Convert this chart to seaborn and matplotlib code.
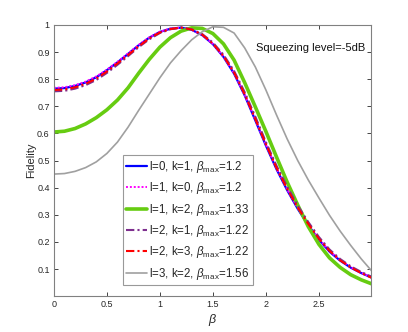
# Fidelity vs beta, squeezing level -5dB
import pandas as pd
import seaborn as sns
import matplotlib
matplotlib.use('Agg')
import matplotlib.pyplot as plt

beta = [0.0, 0.1, 0.2, 0.3, 0.4, 0.5, 0.6, 0.7, 0.8, 0.9, 1.0,
        1.1, 1.2, 1.3, 1.4, 1.5, 1.6, 1.7, 1.8, 1.9, 2.0,
        2.1, 2.2, 2.3, 2.4, 2.5, 2.6, 2.7, 2.8, 2.9, 3.0]

f_l0k1 = [0.765, 0.767, 0.775, 0.788, 0.807, 0.833, 0.862, 0.893, 0.925, 0.953, 0.974,
          0.986, 0.990, 0.982, 0.962, 0.929, 0.882, 0.820, 0.740, 0.648, 0.555,
          0.468, 0.391, 0.322, 0.261, 0.208, 0.164, 0.131, 0.105, 0.085, 0.068]
f_l1k0 = [0.768, 0.770, 0.778, 0.791, 0.810, 0.835, 0.864, 0.895, 0.926, 0.954, 0.975,
          0.987, 0.990, 0.982, 0.962, 0.930, 0.883, 0.822, 0.742, 0.651, 0.558,
          0.471, 0.394, 0.325, 0.264, 0.211, 0.166, 0.133, 0.107, 0.086, 0.069]
f_l1k2 = [0.605, 0.608, 0.618, 0.635, 0.658, 0.687, 0.723, 0.768, 0.822, 0.873, 0.918,
          0.953, 0.977, 0.989, 0.987, 0.968, 0.930, 0.870, 0.787, 0.698, 0.607,
          0.513, 0.421, 0.336, 0.256, 0.191, 0.141, 0.106, 0.079, 0.060, 0.045]
f_l2k1 = [0.755, 0.757, 0.765, 0.778, 0.797, 0.823, 0.853, 0.885, 0.918, 0.947, 0.970,
          0.984, 0.990, 0.984, 0.966, 0.935, 0.890, 0.830, 0.752, 0.662, 0.568,
          0.481, 0.404, 0.334, 0.273, 0.218, 0.172, 0.137, 0.110, 0.089, 0.071]
f_l2k3 = [0.760, 0.762, 0.770, 0.783, 0.802, 0.828, 0.858, 0.889, 0.921, 0.950, 0.972,
          0.985, 0.990, 0.983, 0.964, 0.931, 0.885, 0.824, 0.744, 0.653, 0.560,
          0.473, 0.396, 0.327, 0.266, 0.212, 0.167, 0.132, 0.106, 0.085, 0.067]
f_l3k2 = [0.450, 0.452, 0.460, 0.474, 0.495, 0.526, 0.568, 0.623, 0.685, 0.745, 0.805,
          0.860, 0.905, 0.945, 0.975, 0.993, 0.991, 0.970, 0.915, 0.845, 0.760,
          0.668, 0.580, 0.500, 0.428, 0.362, 0.298, 0.240, 0.187, 0.137, 0.092]

labels = [r'l=0, k=1, $\beta_{\rm max}$=1.2',
          r'l=1, k=0, $\beta_{\rm max}$=1.2',
          r'l=1, k=2, $\beta_{\rm max}$=1.33',
          r'l=2, k=1, $\beta_{\rm max}$=1.22',
          r'l=2, k=3, $\beta_{\rm max}$=1.22',
          r'l=3, k=2, $\beta_{\rm max}$=1.56']
series = [f_l0k1, f_l1k0, f_l1k2, f_l2k1, f_l2k3, f_l3k2]

styles = [dict(color='#0000ff', lw=1.6, ls='-'),
          dict(color='#ff00ff', lw=1.4, ls=(0, (1, 1))),
          dict(color='#66cc11', lw=2.6, ls='-'),
          dict(color='#7e2f8e', lw=1.5, ls=(0, (4, 1.5, 1, 1.5))),
          dict(color='#ff0000', lw=1.5, ls=(0, (4, 1.5, 1, 1.5))),
          dict(color='#a0a0a0', lw=1.2, ls='-')]

sns.set_style('ticks')
plt.rcParams['font.family'] = ['Liberation Sans', 'DejaVu Sans']
plt.rcParams['mathtext.fontset'] = 'custom'
plt.rcParams['mathtext.rm'] = 'Liberation Sans'
plt.rcParams['mathtext.it'] = 'Liberation Sans:italic'

fig = plt.figure(figsize=(4.08, 3.32), dpi=100)
ax = fig.add_axes([0.132, 0.108, 0.777, 0.817])

for vals, lab, st in zip(series, labels, styles):
    df = pd.DataFrame({'beta': beta, 'F': vals})
    sns.lineplot(data=df, x='beta', y='F', ax=ax, label=lab,
                 color=st['color'], linewidth=st['lw'], linestyle=st['ls'])

ax.set_xlim(0, 2.99)
ax.set_ylim(0, 1)
ax.set_xticks([0, 0.5, 1, 1.5, 2, 2.5])
ax.set_xticklabels(['0', '0.5', '1', '1.5', '2', '2.5'])
ax.set_yticks([0.1, 0.2, 0.3, 0.4, 0.5, 0.6, 0.7, 0.8, 0.9, 1])
ax.set_yticklabels(['0.1', '0.2', '0.3', '0.4', '0.5', '0.6', '0.7', '0.8', '0.9', '1'])
ax.tick_params(direction='in', length=3, width=0.6, labelsize=6.5,
               colors='#262626', top=True, right=True, pad=3)
for s in ax.spines.values():
    s.set_visible(True)
    s.set_color('#808080')
    s.set_linewidth(0.8)

ax.set_xlabel(r'$\beta$', fontsize=9, color='#262626', labelpad=2)
ax.set_ylabel('Fidelity', fontsize=8, color='#262626', labelpad=1)

ax.text(2.94, 0.915, 'Squeezing level=-5dB', fontsize=8, ha='right', va='center',
        color='#111111')

leg = ax.legend(loc='lower left', bbox_to_anchor=(0.218, 0.04), fontsize=8.3,
                frameon=True, fancybox=False, handlelength=1.8, handletextpad=0.2,
                labelspacing=0.47, borderpad=0.3, borderaxespad=0)
leg.get_frame().set_edgecolor('#808080')
leg.get_frame().set_linewidth(0.8)

fig.savefig('out.png', dpi=100)
